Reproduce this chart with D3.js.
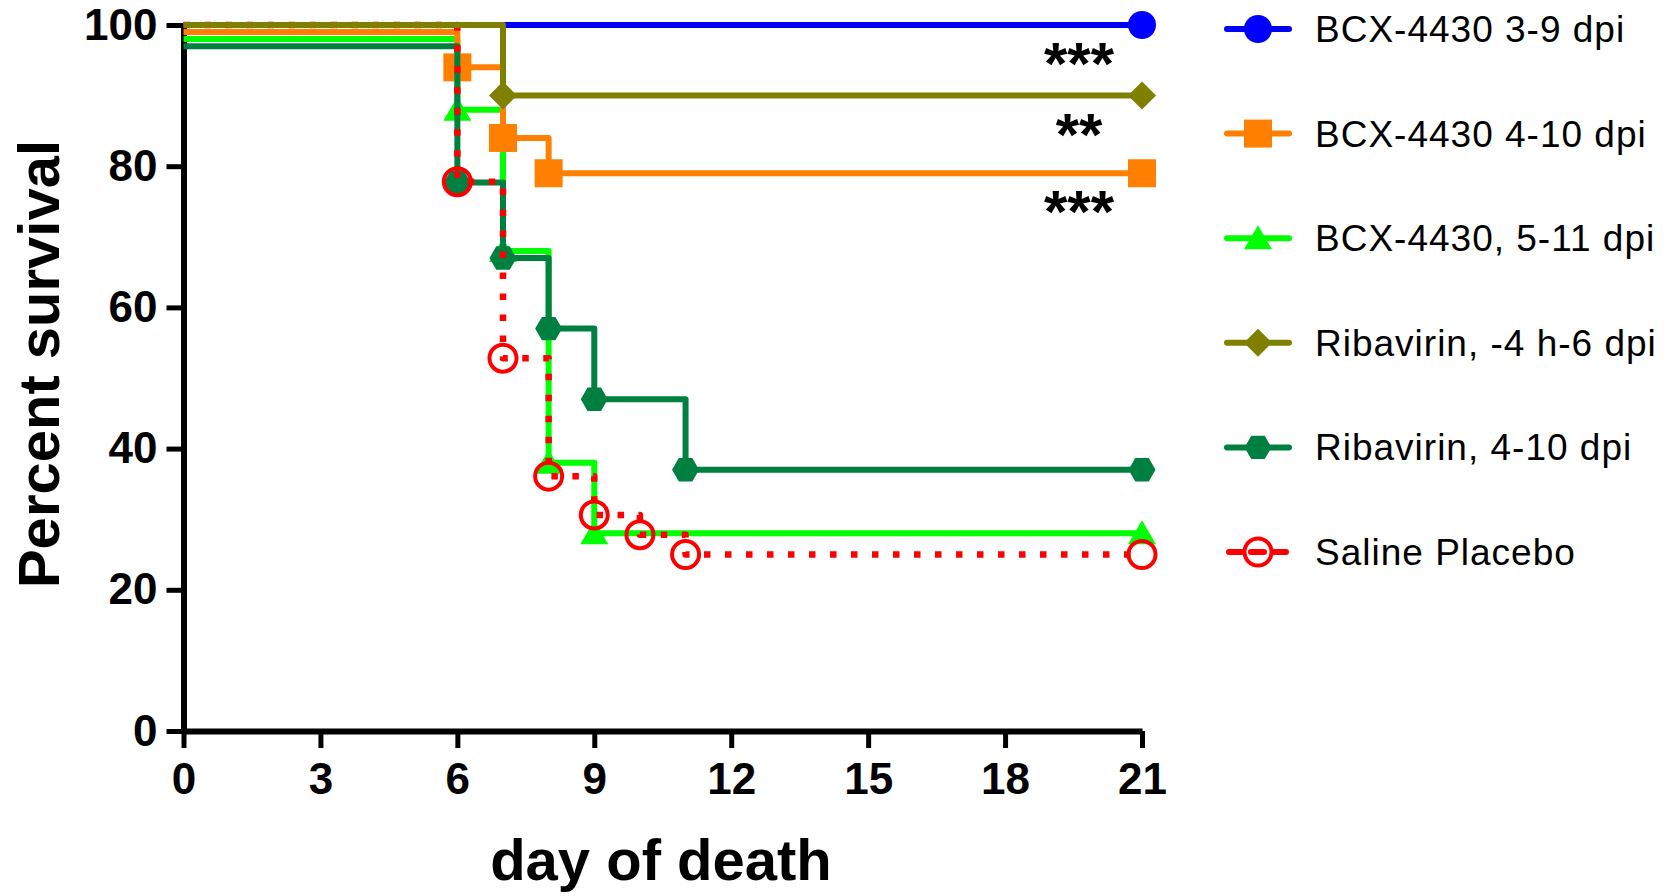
<!DOCTYPE html>
<html>
<head>
<meta charset="utf-8">
<script src="https://cdn.jsdelivr.net/npm/d3@7"></script>
<style>
  html, body { margin: 0; padding: 0; background: #fff; }
  svg { display: block; font-family: "Liberation Sans", Arial, sans-serif; }
</style>
</head>
<body>
<svg id="chart" width="1678" height="896"></svg>
<script>
// survival curves (percent survival at each event day)
const seriesNames = ["BCX-4430 3-9 dpi", "BCX-4430 4-10 dpi", "BCX-4430, 5-11 dpi",
                     "Ribavirin, -4 h-6 dpi", "Ribavirin, 4-10 dpi", "Saline Placebo"];

const bcx39Days = [0, 21];
const bcx39Surv = [100, 100];

const bcx410Days = [0, 6, 7, 8, 21];
const bcx410Surv = [99, 94, 84, 79, 79];

const bcx511Days = [0, 6, 7, 8, 9, 21];
const bcx511Surv = [98, 88, 68, 38, 28, 28];

const riba46Days = [0, 7, 21];
const riba46Surv = [100, 90, 90];

const riba410Days = [0, 6, 7, 8, 9, 11, 21];
const riba410Surv = [97, 77.7, 67, 57, 47, 37, 37];

const salineDays = [0, 6, 7, 8, 9, 10, 11, 21];
const salineSurv = [100, 77.8, 52.8, 36.1, 30.6, 27.8, 25, 25];

const xTicks = [0, 3, 6, 9, 12, 15, 18, 21];
const yTicks = [0, 20, 40, 60, 80, 100];

// significance marks next to the curve ends
const starLabels = ["***", "**", "***"];
const starLevels = [100, 90, 79];

const svg = d3.select("#chart");

const x = d3.scaleLinear().domain([0, 21]).range([183.5, 1142]);
const y = d3.scaleLinear().domain([0, 100]).range([731, 25]);

// marker shapes, centred on 0,0
function marker(shape) {
  switch (shape) {
    case "circle": return "M14,0A14,14 0 1,1 -14,0A14,14 0 1,1 14,0Z";
    case "square": return "M-14,-14H14V14H-14Z";
    case "triangle": return "M0,-13L14,11L-14,11Z";
    case "diamond": return "M0,-14L14,0L0,14L-14,0Z";
    case "hexagon": return "M-13.5,0L-6.75,-11.7L6.75,-11.7L13.5,0L6.75,11.7L-6.75,11.7Z";
    case "ring": return "M13.5,0A13.5,13.5 0 1,1 -13.5,0A13.5,13.5 0 1,1 13.5,0Z";
  }
}

const series = [
  { name: seriesNames[0], days: bcx39Days, surv: bcx39Surv, color: "#0000ff", shape: "circle" },
  { name: seriesNames[1], days: bcx410Days, surv: bcx410Surv, color: "#ff8000", shape: "square" },
  { name: seriesNames[2], days: bcx511Days, surv: bcx511Surv, color: "#00ff00", shape: "triangle" },
  { name: seriesNames[3], days: riba46Days, surv: riba46Surv, color: "#808000", shape: "diamond" },
  { name: seriesNames[4], days: riba410Days, surv: riba410Surv, color: "#008040", shape: "hexagon" },
  { name: seriesNames[5], days: salineDays, surv: salineSurv, color: "#ff0000", shape: "ring", dotted: true }
];

// axes
const yAxis = svg.append("g")
  .attr("transform", `translate(${x(0)},0)`)
  .call(d3.axisLeft(y).tickValues(yTicks).tickSize(17).tickSizeOuter(0).tickPadding(9));
const xAxis = svg.append("g")
  .attr("transform", `translate(0,${y(0)})`)
  .call(d3.axisBottom(x).tickValues(xTicks).tickSize(17).tickSizeOuter(0).tickPadding(15));

[yAxis, xAxis].forEach(g => {
  g.select(".domain").attr("stroke", "#000").attr("stroke-width", 6);
  g.selectAll(".tick line").attr("stroke", "#000").attr("stroke-width", 5);
  g.selectAll(".tick text").attr("fill", "#000")
    .style("font-size", "44px").style("font-weight", "bold");
});

// step lines, drawn so the overlaps stack like the original
const step = d3.line().curve(d3.curveStepAfter).x(d => x(d[0])).y(d => y(d[1]));
const drawOrder = [0, 2, 1, 4, 5, 3];

drawOrder.forEach(i => {
  const s = series[i];
  const pts = s.days.map((d, k) => [d, s.surv[k]]);
  const g = svg.append("g");
  g.append("path")
    .attr("d", step(pts))
    .attr("fill", "none")
    .attr("stroke", s.color)
    .attr("stroke-width", s.dotted ? 6.5 : 6)
    .attr("stroke-linejoin", "round")
    .attr("stroke-dasharray", s.dotted ? "6.5,14.5" : null);
  g.selectAll("path.mark")
    .data(pts.slice(1))
    .join("path")
    .attr("class", "mark")
    .attr("d", marker(s.shape))
    .attr("transform", d => `translate(${x(d[0])},${y(d[1])})`)
    .attr("fill", s.dotted ? "none" : s.color)
    .attr("stroke", s.dotted ? s.color : "none")
    .attr("stroke-width", 4);
});

// stars
svg.append("g").selectAll("text")
  .data(starLabels)
  .join("text")
  .attr("x", 1079)
  .attr("y", (d, i) => y(starLevels[i]) + 59)
  .attr("text-anchor", "middle")
  .style("font-size", "60px")
  .style("font-weight", "bold")
  .text(d => d);

// axis titles
svg.append("text")
  .attr("transform", "translate(59,364) rotate(-90)")
  .attr("text-anchor", "middle")
  .style("font-size", "58px").style("font-weight", "bold")
  .text("Percent survival");

svg.append("text")
  .attr("x", 661).attr("y", 880)
  .attr("text-anchor", "middle")
  .style("font-size", "58px").style("font-weight", "bold")
  .text("day of death");

// legend
const legend = svg.append("g").attr("transform", "translate(1227,29)");
const row = legend.selectAll("g")
  .data(series)
  .join("g")
  .attr("transform", (d, i) => `translate(0,${i * 104.6})`);

row.append("line")
  .attr("x1", 0).attr("x2", 62)
  .attr("stroke", d => d.color)
  .attr("stroke-width", 6)
  .attr("stroke-linecap", "round")
  .attr("stroke-dasharray", d => d.dotted ? "13,9" : null)
  .attr("stroke-dashoffset", d => d.dotted ? -2 : null);

row.append("path")
  .attr("d", d => marker(d.shape))
  .attr("transform", "translate(31,0)")
  .attr("fill", d => d.dotted ? "none" : d.color)
  .attr("stroke", d => d.dotted ? d.color : "none")
  .attr("stroke-width", 4);

row.append("text")
  .attr("x", 88).attr("y", 13)
  .style("font-size", "37px")
  .style("letter-spacing", "1px")
  .text(d => d.name);
</script>
</body>
</html>
